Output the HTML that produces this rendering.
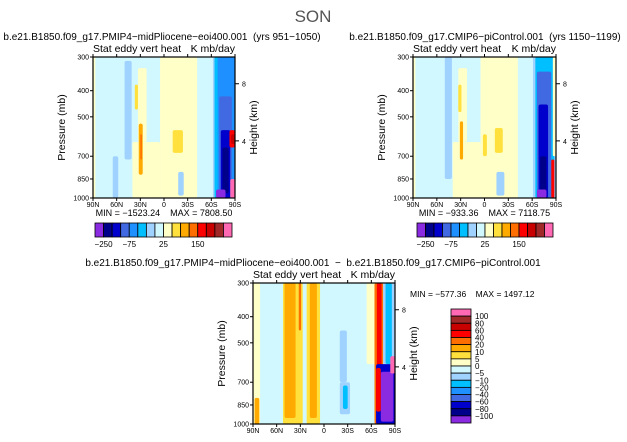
<!DOCTYPE html>
<html><head><meta charset="utf-8">
<style>
html,body{margin:0;padding:0;background:#fff;}
svg{display:block;font-family:"Liberation Sans",sans-serif;}
text{white-space:pre;}
</style></head>
<body>
<svg id="s" width="627" height="442" viewBox="0 0 627 442" xmlns="http://www.w3.org/2000/svg">
<text x="313" y="22" font-size="17" fill="#555" text-anchor="middle">SON</text>
<g id="g"></g>
</svg>
<script>
// ---------- data ----------
const levelsTop = [-250,-200,-150,-100,-75,-50,-25,0,25,50,75,100,150,200,250];
const levelsDiff = [100,80,60,40,20,10,5,0,-5,-10,-20,-40,-60,-80,-100];
const colors = ["#8a2be2","#00008b","#0000cd","#4169e1","#1e90ff","#00bfff","#a0d2ff","#d2f8ff","#ffffc8","#ffe03c","#ffaa00","#ff6e00","#ff0000","#c80000","#a02828","#ff69b4"];
const latTicks = [90,60,30,0,-30,-60,-90];
const latLabels = ["90N","60N","30N","0","30S","60S","90S"];
const pTicks = [300,400,500,700,850,1000];
const hTicks = [8,4];
const topLabelIdx = [1,4,8,12]; const topLabelTxt=["-250","-75","25","150"];
// features: [lat1, lat2, pTop, pBottom, colorIndex]
const featL = [
 [90,87,300,1000,8],[5,-42,300,1000,8],[40,5,620,1000,8],[33,22,330,620,8],
 [50,41,310,720,6],[-18,-25,800,980,6],[65,58,700,1000,6],
 [37,33,380,470,9],[32,27,530,820,10],[30,28,580,720,11],[-11,-24,560,680,9],
 [-62,-90,300,1000,6],[-64,-90,300,1000,5],[-68,-90,300,1000,4],[-70,-86,420,1000,3],[-72,-84,560,1000,2],[-74,-82,650,960,1],
 [-66,-78,930,1000,0],[-83,-90,560,650,12],[-85,-90,580,630,13],[-84,-90,850,1000,15]
];
const featR = [
 [90,87,300,1000,8],[5,-42,300,1000,8],[40,5,620,1000,8],[33,22,330,620,8],
 [50,41,300,850,6],[-15,-25,800,980,6],
 [33,29,380,480,9],[31,27,520,720,10],[2,-3,580,700,9],[-13,-23,550,680,9],
 [-61,-90,300,1000,6],[-64,-88,300,1000,5],[-66,-84,340,1000,3],[-68,-80,450,1000,2],[-70,-78,700,950,1],
 [-66,-78,930,1000,0],[-84,-88,720,1000,12],[-86,-90,300,700,8]
];
const featD = [
 [90,81,300,1000,8],[88,82,800,1000,10],
 [52,27,300,1000,9],[50,36,300,950,10],[33,28,300,1000,9],[32,29,300,450,11],
 [22,5,300,1000,9],[18,9,300,950,10],
 [-20,-29,450,700,6],[-20,-33,700,920,6],[-24,-30,720,880,5],
 [-54,-67,300,600,8],[-64,-75,300,1000,11],[-67,-73,300,620,12],
 [-75,-90,300,600,6],[-78,-86,300,600,5],
 [-66,-90,600,1000,2],[-72,-88,640,980,0],[-66,-72,620,900,12],[-84,-90,560,650,15]
];
// ---------- drawing ----------
const NS="http://www.w3.org/2000/svg";
const G=document.getElementById('g');
function el(t,a,p){const e=document.createElementNS(NS,t);for(const k in a)e.setAttribute(k,a[k]);(p||G).appendChild(e);return e;}
function txt(x,y,s,size,anchor,p){const e=el('text',{x:x,y:y,'font-size':size,'text-anchor':anchor||'start',fill:'#000'},p);e.textContent=s;return e;}
function panel(x0,y0,w,h,feats,name,title,tx,minmax){
  const X=lat=>x0+(90-lat)/180*w;
  const Y=p=>y0+(Math.log(p)-Math.log(300))/(Math.log(1000)-Math.log(300))*h;
  const g=el('g',{});
  
  
  const bg=el('rect',{x:x0,y:y0,width:w,height:h,fill:colors[7]},g);
  
  
  for(const f of feats){
    const r=el('rect',{x:X(f[0]),y:Y(f[2]),width:X(f[1])-X(f[0]),height:Y(f[3])-Y(f[2]),fill:colors[f[4]],rx:Math.min(2,(X(f[1])-X(f[0]))/2)},g);
    
    
  }
  el('rect',{x:x0,y:y0,width:w,height:h,fill:'none',stroke:'#000','stroke-width':1.2},g);
  latTicks.forEach((l,i)=>{el('line',{x1:X(l),x2:X(l),y1:y0+h,y2:y0+h+3,stroke:'#000'},g);
    el('line',{x1:X(l),x2:X(l),y1:y0,y2:y0-3,stroke:'#000'},g);
    const t=txt(X(l),y0+h+9,latLabels[i],7,'middle',g);});
  pTicks.forEach(p=>{el('line',{x1:x0-3,x2:x0,y1:Y(p),y2:Y(p),stroke:'#000'},g);
    const t=txt(x0-4,Y(p)+2.5,String(p),7,'end',g);});
  hTicks.forEach(k=>{const p=1000*Math.exp(-k/8.2);el('line',{x1:x0+w,x2:x0+w+4,y1:Y(p),y2:Y(p),stroke:'#000'},g);
    const t=txt(x0+w+7,Y(p)+3,String(k),7,'start',g);});
  let t=txt(x0,y0-5,'Stat eddy vert heat',10.5,'start',g);
  t=txt(x0+w,y0-5,'K mb/day',10.5,'end',g);
  t=el('text',{x:0,y:0,'font-size':10.5,'text-anchor':'middle',transform:`translate(${x0-28},${y0+h/2}) rotate(-90)`},g);t.textContent='Pressure (mb)';
  
  t=el('text',{x:0,y:0,'font-size':10.5,'text-anchor':'middle',transform:`translate(${x0+w+22},${y0+h/2}) rotate(-90)`},g);t.textContent='Height (km)';
  
  t=txt(tx,y0-17,title,10,'middle',g);
  if(minmax){t=txt(x0+w/2,y0+h+18,minmax,9,'middle',g);}
}
function hbar(x0,y0,w,h){
  const g=el('g',{});
  
  
  const bw=w/colors.length;
  colors.forEach((c,i)=>{const r=el('rect',{x:x0+i*bw,y:y0,width:bw,height:h,fill:c,stroke:'#000','stroke-width':0.8},g);
    });
  topLabelIdx.forEach((k,i)=>{const t=txt(x0+k*bw,y0+h+10,topLabelTxt[i].replace('-','\u2212'),8,'middle',g);});
}
function vbar(x0,y0,w,h){
  const g=el('g',{});
  
  
  const bh=h/colors.length;
  colors.slice().reverse().forEach((c,i)=>{const r=el('rect',{x:x0,y:y0+i*bh,width:w,height:bh,fill:c,stroke:'#000','stroke-width':0.8},g);
    });
  levelsDiff.forEach((v,i)=>{const t=txt(x0+w+4,y0+(i+1)*bh+3,String(v).replace('-','\u2212'),8,'start',g);});
}
panel(93,57,142,141,featL,'panel-midpliocene','b.e21.B1850.f09_g17.PMIP4\u2212midPliocene\u2212eoi400.001  (yrs 951\u22121050)',162,'MIN = \u22121523.24    MAX = 7808.50');
panel(413,57,143,141,featR,'panel-picontrol','b.e21.B1850.f09_g17.CMIP6\u2212piControl.001  (yrs 1150\u22121199)',485,'MIN = \u2212933.36    MAX = 7118.75');
panel(253,283,142,141,featD,'panel-difference','b.e21.B1850.f09_g17.PMIP4\u2212midPliocene\u2212eoi400.001  \u2212  b.e21.B1850.f09_g17.CMIP6\u2212piControl.001',313,null);
hbar(95,223,137,14);
hbar(417,223,136,14);
vbar(451,309,20,114);
let t=txt(410,297,'MIN = \u2212577.36    MAX = 1497.12',8.5,'start');


</script>
</body></html>
